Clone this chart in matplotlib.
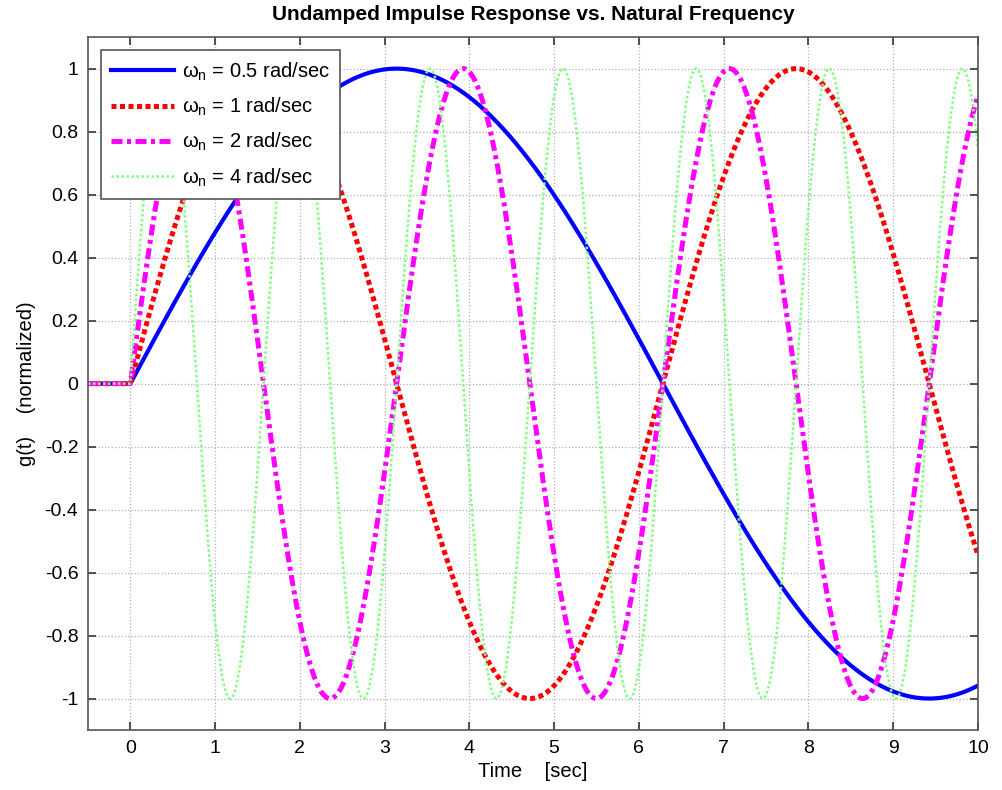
"""Undamped impulse response g(t) = sin(wn t) u(t), normalized, for several natural frequencies."""
import matplotlib
matplotlib.use("Agg")
import matplotlib.pyplot as plt
import numpy as np

plt.rcParams["font.family"] = ["Liberation Sans", "DejaVu Sans"]
plt.rcParams["mathtext.fontset"] = "custom"
plt.rcParams["mathtext.rm"] = "Liberation Sans"
plt.rcParams["mathtext.it"] = "Liberation Sans"

# natural frequencies shown in the legend [rad/sec]
WN = [0.5, 1, 2, 4]
T_START, T_END, DT = -0.5, 10.0, 0.01
Y_TICKS = [-1, -0.8, -0.6, -0.4, -0.2, 0, 0.2, 0.4, 0.6, 0.8, 1]

COLORS = ["#0000ff", "#ff0000", "#ff00ff", "#80ff80"]
DASHES = [None, (1.0, 0.7), (2.2, 0.9, 0.8, 0.9), (1.0, 1.0)]
WIDTHS = [3.0, 3.6, 3.6, 1.8]

t = np.arange(T_START, T_END + DT / 2, DT)

fig = plt.figure(figsize=(10.02, 7.9), dpi=100)
ax = fig.add_axes([0.0878, 0.0759, 0.8882, 0.8771])

for wn, c, ds, lw in zip(WN, COLORS, DASHES, WIDTHS):
    g = np.where(t >= 0, np.sin(wn * t), 0.0)
    line, = ax.plot(t, g, color=c, lw=lw,
                    label=rf"$\omega_n$ = {wn:g} rad/sec")
    if ds is not None:
        line.set_dashes(ds)

ax.set_xlim(T_START, T_END)
ax.set_ylim(-1.1, 1.1)
ax.set_xticks(np.arange(0, 11, 1))
ax.set_yticks(Y_TICKS)
ax.set_yticklabels([f"{v:g}" for v in Y_TICKS])
ax.tick_params(direction="in", length=6, width=1.2, labelsize=14, pad=7,
               top=True, right=True, colors="#333333", labelcolor="black")
ax.grid(True, ls=":", color="#b0b0b0", lw=0.9)
for s in ax.spines.values():
    s.set_color("#555555")
    s.set_linewidth(1.2)

ax.set_xlabel("Time    [sec]", fontsize=14.5, labelpad=4)
ax.set_ylabel("g(t)    (normalized)", fontsize=14.5, labelpad=6)
ax.set_title("Undamped Impulse Response vs. Natural Frequency",
             fontsize=15, fontweight="bold", pad=12)

leg = ax.legend(loc="upper left", fontsize=14.5, frameon=True, fancybox=False,
                borderpad=0.5, handlelength=3.1, labelspacing=0.65,
                borderaxespad=0.65, handletextpad=0.4)
leg.get_frame().set_edgecolor("#555555")
leg.get_frame().set_linewidth(1.2)
leg.get_frame().set_alpha(1.0)

fig.savefig("out.png", dpi=100)
